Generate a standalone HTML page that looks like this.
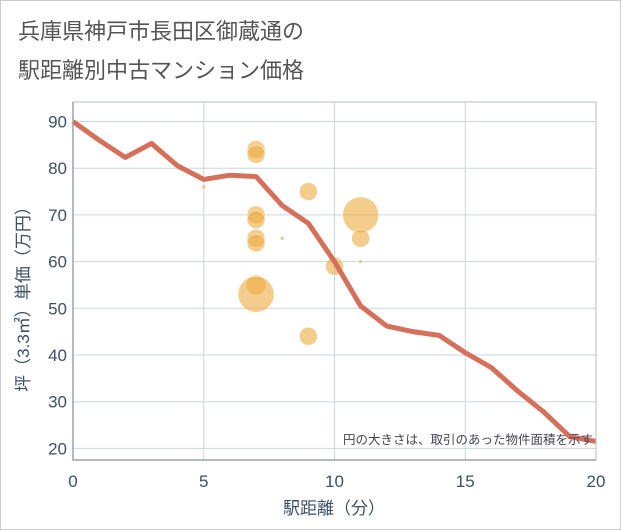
<!DOCTYPE html>
<html><head><meta charset="utf-8"><style>
body{margin:0;background:#fff;font-family:"Liberation Sans","Noto Sans CJK JP",sans-serif;}
#frame{position:absolute;left:0;top:0;width:619px;height:528px;border:1px solid #ccc;}
</style></head><body>
<div id="frame"></div>
<svg width="621" height="530" style="position:absolute;left:0;top:0">
<text x="18" y="39" font-size="22" fill="#555">兵庫県神戸市長田区御蔵通の</text>
<text x="18" y="78" font-size="22" fill="#555">駅距離別中古マンション価格</text>
<g id="grid"></g>
<g id="bubbles"></g>
<g id="line"></g>
<g id="axes"></g>
<text x="593" y="444" font-size="12.5" fill="#445" text-anchor="end">円の大きさは、取引のあった物件面積を示す</text>
<text x="334" y="514" font-size="17" fill="#3d5068" text-anchor="middle">駅距離（分）</text>
<text transform="translate(29,295) rotate(-90)" font-size="17" fill="#3d5068" text-anchor="middle">坪（3.3㎡）単価（万円）</text>
</svg>
<script>
const xTicks=[0,5,10,15,20];
const yTicks=[20,30,40,50,60,70,80,90];
const lineX=[0,1,2,3,4,5,6,7,8,9,10,11,12,13,14,15,16,17,18,19,20];
const lineY=[90,86,82.3,85.3,80.5,77.6,78.5,78.2,72,68.2,60,50.5,46.2,45,44.2,40.5,37.3,32.3,27.8,22.5,21.5];
const bubX=[7,7,5,7,7,7,7,7,7,8,9,9,10,11,11,11];
const bubY=[84,83,76,70,69,65,64,55,53,65,75,44,59,70,65,60];
const bubR=[9,9,2,9,9,9,9,10,18,2,9,9,9,18,9,2];
const L=73,R=596,T=102,B=460;
const sx=v=>L+(R-L)*v/20;
const sy=v=>448.4-(v-20)*4.67;
const NS='http://www.w3.org/2000/svg';
function mk(t,a,p){const e=document.createElementNS(NS,t);for(const k in a)e.setAttribute(k,a[k]);p.appendChild(e);return e;}
const g=document.getElementById('grid'),ax=document.getElementById('axes');
xTicks.forEach(v=>{
 const l=mk('line',{x1:sx(v),x2:sx(v),y1:T,y2:B,stroke:'#c8d6e4','stroke-width':1},g);
 
 
 const t=mk('text',{x:sx(v),y:487,'font-size':17,fill:'#3d5068','text-anchor':'middle'},ax);t.textContent=v;
 
 
});
yTicks.forEach(v=>{
 const l=mk('line',{x1:L,x2:R,y1:sy(v),y2:sy(v),stroke:'#c8d6e4','stroke-width':1},g);
 
 
 const t=mk('text',{x:L-6,y:sy(v)+6,'font-size':17,fill:'#3d5068','text-anchor':'end'},ax);t.textContent=v;
 
 
});
const box=mk('path',{d:`M${L} ${T}H${R}V${B}H${L}Z`,fill:'none',stroke:'#b4bcc6','stroke-width':1},ax);


const axl=mk('path',{d:`M${L} ${T}V${B}H${R}`,fill:'none',stroke:'#9aa2aa','stroke-width':1.5},ax);


const bg=document.getElementById('bubbles');
bubX.forEach((x,i)=>{
 const c=mk('circle',{cx:sx(x),cy:sy(bubY[i]),r:bubR[i],fill:'rgba(238,172,70,0.62)',stroke:'#fff','stroke-width':0.5},bg);
 
 
});
const p=mk('polyline',{points:lineX.map((x,i)=>sx(x)+','+sy(lineY[i])).join(' '),fill:'none',stroke:'#d5705a','stroke-width':5,'stroke-linejoin':'round'},document.getElementById('line'));


</script>
</body></html>
